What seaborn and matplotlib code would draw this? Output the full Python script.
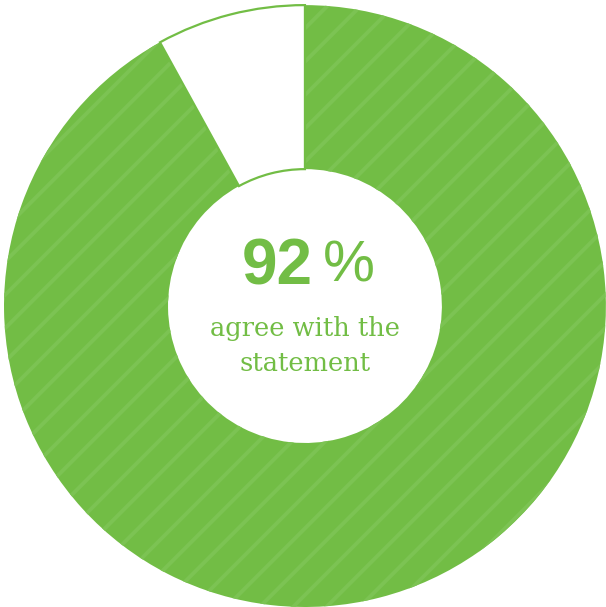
import matplotlib
matplotlib.use("Agg")
import matplotlib.pyplot as plt
import seaborn as sns

# Share of respondents
labels = ["agree", "other"]
shares = [92, 8]
headline = "92"
caption = ["agree with the", "statement"]

green = "#72bd45"
hatch_green = "#7cc353"

sns.set_theme(style="white")
plt.rcParams["hatch.linewidth"] = 2.8

fig = plt.figure(figsize=(6.06, 6.07), dpi=100)
ax = fig.add_axes([0, 0, 1, 1])

wedges, _ = ax.pie(
    shares,
    colors=[green, "white"],
    startangle=90,
    counterclock=False,
    radius=1.0,
    wedgeprops=dict(width=0.545, linewidth=0),
)

# Diagonal texture on the main segment; the edge stroke stays hidden
wedges[0].set_hatch("/")
wedges[0].set_edgecolor(hatch_green)
wedges[0].set_linewidth(0)

# Remaining segment: white with a thin green outline
wedges[1].set_facecolor("white")
wedges[1].set_edgecolor(green)
wedges[1].set_linewidth(1.6)

ax.set_xlim(-1.013, 1.0)
ax.set_ylim(-1.0, 1.017)
ax.set_aspect("equal")
ax.axis("off")

ax.text(0.025, 0.128, headline, ha="right", va="center", fontsize=46,
        fontweight="bold", color=green, family="Liberation Sans")
ax.text(0.058, 0.133, "%", ha="left", va="center", fontsize=42,
        fontweight="normal", color=green, family="Liberation Sans")
ax.text(0.0, -0.075, caption[0], ha="center", va="center", fontsize=18.5,
        color=green, family="DejaVu Serif")
ax.text(0.0, -0.19, caption[1], ha="center", va="center", fontsize=18.5,
        color=green, family="DejaVu Serif")

fig.savefig("out.png", dpi=100, facecolor="white")
